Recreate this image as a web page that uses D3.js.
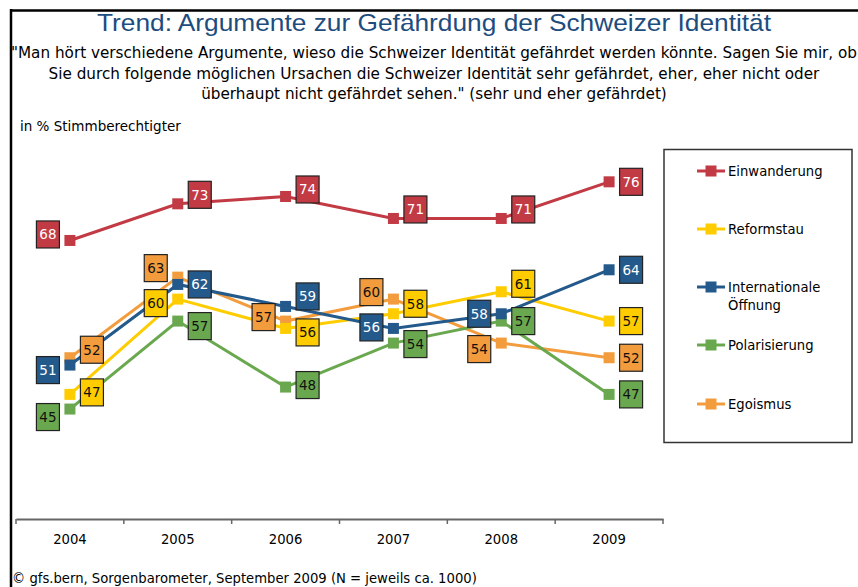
<!DOCTYPE html>
<html><head><meta charset="utf-8">
<script src="https://cdn.jsdelivr.net/npm/d3@7"></script>
<style>
html,body{margin:0;padding:0;background:#fff;}
svg{display:block;}
</style></head>
<body>
<svg id="c" width="858" height="587"></svg>
<script>
// ---- data ----
const years = ["2004","2005","2006","2007","2008","2009"];
const seriesNames = ["Einwanderung","Reformstau","Internationale Öffnung","Polarisierung","Egoismus"];
const einwanderung = [68,73,74,71,71,76];
const reformstau = [47,60,56,58,61,57];
const internationaleOeffnung = [51,62,59,56,58,64];
const polarisierung = [45,57,48,54,57,47];
const egoismus = [52,63,57,60,54,52];

// ---- label placement (layout, not data) ----
const labelSide = [
  ["L","R","R","R","R","R"],
  ["R","L","R","R","R","R"],
  ["L","R","R","L","L","R"],
  ["L","R","R","R","R","R"],
  ["R","L","L","L","L","R"]
];
const labelDy = [
  [-6,-9,-7,-9,-9,0],
  [-2,4,4,-10,-8,0],
  [5,0,-10,-1,0,0],
  [8,5,-2,1,0,0],
  [-8,-9,-4,-7,6,0]
];

const colors = ["#C23A44","#FFCC00","#245A8B","#6AA84F","#F39C3D"];
const textColors = ["#fff","#111","#fff","#111","#111"];
const allValues = [einwanderung, reformstau, internationaleOeffnung, polarisierung, egoismus];
const series = seriesNames.map((n,i)=>({name:n, values:allValues[i], color:colors[i], tc:textColors[i], idx:i}));

const FONT = "'DejaVu Sans',Verdana,sans-serif";
const svg = d3.select("#c");

// frame
svg.append("line").attr("x1",10).attr("x2",858).attr("y1",10.5).attr("y2",10.5).attr("stroke","#000").attr("stroke-width",2.5);
svg.append("line").attr("x1",11).attr("x2",11).attr("y1",9).attr("y2",587).attr("stroke","#000").attr("stroke-width",2.5);

// title
svg.append("text").attr("x",434).attr("y",31).attr("text-anchor","middle")
  .attr("font-family","'Liberation Sans',Arial,sans-serif").attr("font-size",24)
  .attr("fill","#1D4C7E").attr("textLength",674).attr("lengthAdjust","spacingAndGlyphs")
  .text("Trend: Argumente zur Gefährdung der Schweizer Identität");

const subLines = [
  {t:"\"Man hört verschiedene Argumente, wieso die Schweizer Identität gefährdet werden könnte. Sagen Sie mir, ob", y:58},
  {t:"Sie durch folgende möglichen Ursachen die Schweizer Identität sehr gefährdet, eher, eher nicht oder", y:79},
  {t:"überhaupt nicht gefährdet sehen.\" (sehr und eher gefährdet)", y:99}
];
const subNodes = subLines.map(l=>svg.append("text").attr("x",434).attr("y",l.y).attr("text-anchor","middle")
    .attr("font-family",FONT).attr("font-size",15)
    .attr("fill","#000").text(l.t));
const k = 846 / subNodes[0].node().getComputedTextLength();
subNodes.forEach(n=>{
  const w = n.node().getComputedTextLength()*k;
  n.attr("textLength",w).attr("lengthAdjust","spacingAndGlyphs");
});

svg.append("text").attr("x",20).attr("y",131)
  .attr("font-family",FONT).attr("font-size",13.5).attr("fill","#000")
  .text("in % Stimmberechtigter");

// scales
const x = d3.scaleBand().domain(years).range([16,663]).padding(0);
const y = d3.scaleLinear().domain([30,80]).range([519,152.5]);
const cx = d => x(d) + x.bandwidth()/2;

// axis
const axisG = svg.append("g").attr("transform","translate(0,519)");
axisG.call(d3.axisBottom(x).tickSize(0).tickPadding(16));
axisG.select(".domain").attr("stroke","#666").attr("stroke-width",2);
axisG.selectAll(".tick text").attr("font-family",FONT).attr("font-size",13.2).attr("fill","#000");
const bounds = years.map(d=>x(d)).concat([x(years[years.length-1])+x.bandwidth()]);
axisG.selectAll("line.bt").data(bounds).enter().append("line").attr("class","bt")
  .attr("x1",d=>d).attr("x2",d=>d).attr("y1",0).attr("y2",5).attr("stroke","#666").attr("stroke-width",1.5);

// lines
const line = d3.line().x((v,i)=>cx(years[i])).y(v=>y(v));
const drawOrder = [4,3,1,2,0];
drawOrder.forEach(si=>{
  const s = series[si];
  const g = svg.append("g");
  g.append("path").attr("d",line(s.values)).attr("fill","none").attr("stroke",s.color).attr("stroke-width",3);
  g.selectAll("rect").data(s.values).enter().append("rect")
    .attr("x",(v,i)=>cx(years[i])-5.5).attr("y",v=>y(v)-5.5).attr("width",11).attr("height",11)
    .attr("fill",s.color);
});

// value labels
series.forEach(s=>{
  const g = svg.append("g");
  s.values.forEach((v,i)=>{
    const side = labelSide[s.idx][i];
    const lx = cx(years[i]) + (side==="R"?22:-22);
    const ly = y(v) + labelDy[s.idx][i];
    g.append("rect").attr("x",lx-11.5).attr("y",ly-13.5).attr("width",23).attr("height",27)
      .attr("fill",s.color).attr("stroke","#222").attr("stroke-width",1.2);
    g.append("text").attr("x",lx).attr("y",ly+5).attr("text-anchor","middle")
      .attr("font-family",FONT).attr("font-size",13.5)
      .attr("fill",s.tc).text(v);
  });
});

// legend
svg.append("rect").attr("x",664).attr("y",149.5).attr("width",188).attr("height",293)
  .attr("fill","#fff").attr("stroke","#333").attr("stroke-width",1.5);
const legendY = [171,229,287,345,404];
series.forEach((s,i)=>{
  const ly = legendY[i];
  svg.append("line").attr("x1",697).attr("x2",725).attr("y1",ly).attr("y2",ly).attr("stroke",s.color).attr("stroke-width",3);
  svg.append("rect").attr("x",705.5).attr("y",ly-5.5).attr("width",11).attr("height",11).attr("fill",s.color);
  const t = svg.append("text").attr("x",728).attr("y",ly+5)
    .attr("font-family",FONT).attr("font-size",13.2).attr("fill","#000");
  const parts = s.name.split(" ");
  if (parts.length>1 && s.name.length>14) {
    parts.forEach((p,j)=>t.append("tspan").attr("x",728).attr("dy",j===0?0:18).text(p));
  } else t.text(s.name);
});

// source
svg.append("text").attr("x",12).attr("y",583)
  .attr("font-family",FONT).attr("font-size",13.2).attr("fill","#000")
  .text("© gfs.bern, Sorgenbarometer, September 2009 (N = jeweils ca. 1000)");
</script>
</body></html>
